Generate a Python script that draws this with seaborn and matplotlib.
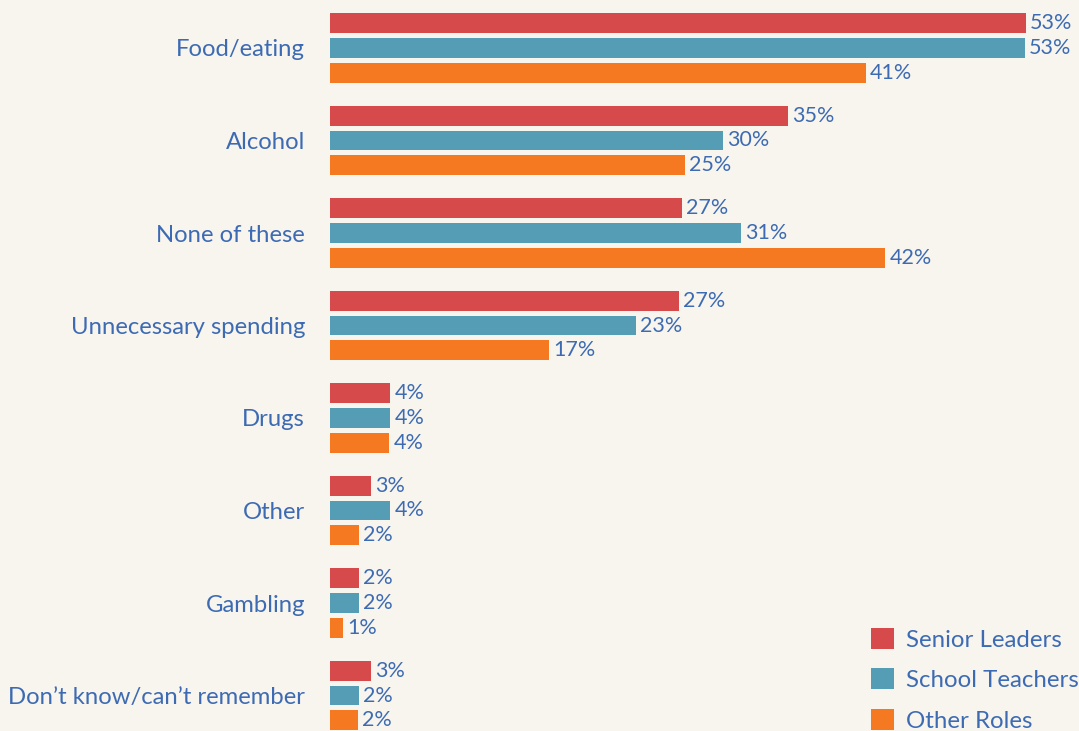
import pandas as pd
import seaborn as sns
import matplotlib.pyplot as plt
from matplotlib.patches import Patch

# Categories and roles
categories = ['Food/eating', 'Alcohol', 'None of these', 'Unnecessary spending',
              'Drugs', 'Other', 'Gambling', "Don\u2019t know/can\u2019t remember"]
roles = ['Senior Leaders', 'School Teachers', 'Other Roles']

# Bar lengths as drawn in the picture (%)
senior = [53.0, 34.9, 26.8, 26.6, 4.6, 3.1, 2.2, 3.1]
teachers = [52.9, 29.9, 31.3, 23.3, 4.6, 4.6, 2.2, 2.2]
other = [40.8, 27.0, 42.3, 16.7, 4.5, 2.2, 1.0, 2.1]

# Printed value labels
senior_lbl = ['53%', '35%', '27%', '27%', '4%', '3%', '2%', '3%']
teachers_lbl = ['53%', '30%', '31%', '23%', '4%', '4%', '2%', '2%']
other_lbl = ['41%', '25%', '42%', '17%', '4%', '2%', '1%', '2%']

colors = ['#d64a4b', '#549db4', '#f47920']
bg = '#f8f5ee'
txt = '#3d6bb3'

df = pd.DataFrame({
    'category': categories * 3,
    'role': [r for r in roles for _ in categories],
    'value': senior + teachers + other,
})

plt.rcParams['font.family'] = ['Lato', 'DejaVu Sans']

fig = plt.figure(figsize=(10.79, 7.31), dpi=100, facecolor=bg)
ax = fig.add_axes([330 / 1079, 0, 749 / 1079, 1])
ax.set_facecolor(bg)

sns.barplot(data=df, y='category', x='value', hue='role', order=categories,
            hue_order=roles, palette=colors, saturation=1, orient='h',
            width=0.795, gap=0.185, ax=ax, legend=False, errorbar=None)

for cont, lbls in zip(ax.containers, [senior_lbl, teachers_lbl, other_lbl]):
    ax.bar_label(cont, labels=lbls, padding=3, color=txt, fontsize=15.5)

ax.set_xlim(0, 749 / 13.13)
ax.set_ylim((731 - 48) / 92.5, -48 / 92.5)
ax.set_xlabel('')
ax.set_ylabel('')
ax.set_xticks([])
ax.tick_params(axis='y', length=0, pad=18, labelsize=17.2, labelcolor=txt)
for s in ax.spines.values():
    s.set_visible(False)

handles = [Patch(facecolor=c, edgecolor='none') for c in colors]
fig.legend(handles, roles, loc='upper left', bbox_to_anchor=(871 / 1079, 1 - 628 / 731),
           frameon=False, fontsize=17.3, labelcolor=txt, handlelength=0.96, handleheight=0.96,
           handletextpad=0.5, labelspacing=0.74, borderpad=0, borderaxespad=0)

fig.savefig('out.png', dpi=100, facecolor=bg)
